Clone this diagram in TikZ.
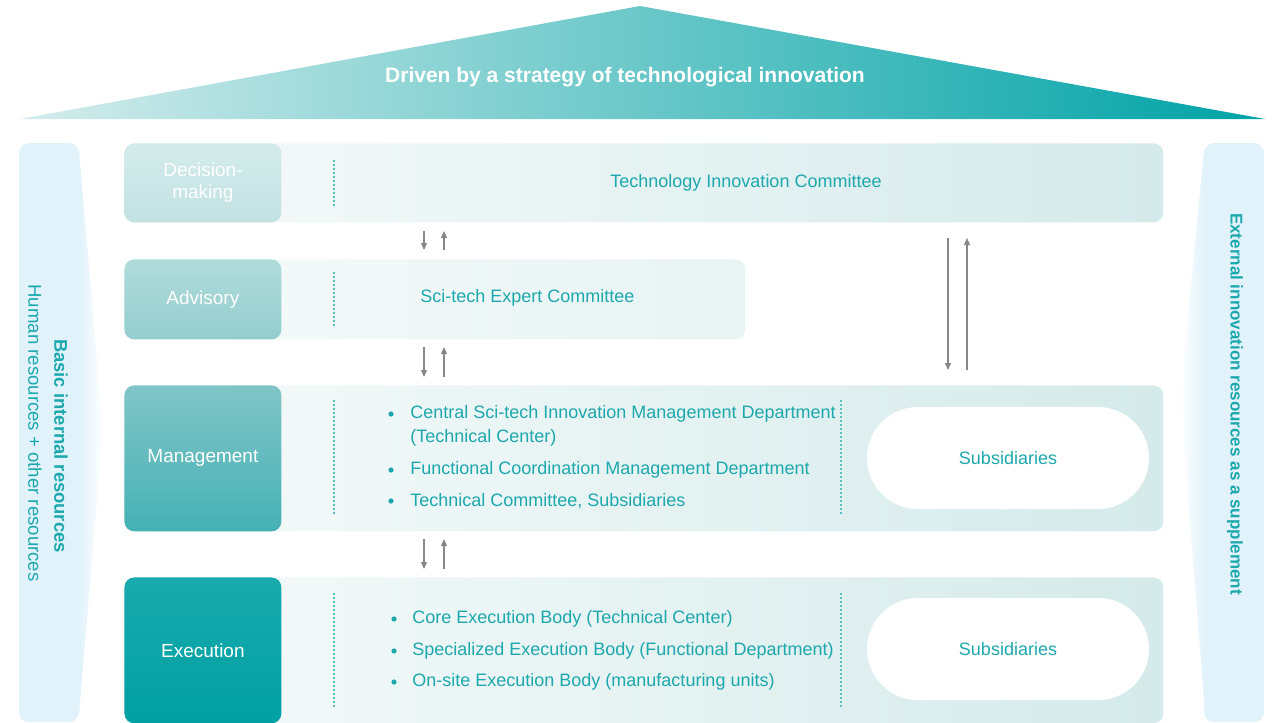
\documentclass[tikz,border=0pt]{standalone}
\usepackage{fontspec}
\setmainfont{Liberation Sans}
\usetikzlibrary{positioning,arrows.meta,calc}

\definecolor{tealtxt}{RGB}{28,168,172}
\definecolor{roofL}{RGB}{212,236,236}
\definecolor{roofR}{RGB}{0,163,166}
\definecolor{sidebg}{RGB}{225,242,251}
\definecolor{rowL}{RGB}{247,251,251}
\definecolor{rowR}{RGB}{213,234,234}
\definecolor{arrowgray}{RGB}{135,135,135}
\definecolor{dotteal}{RGB}{90,190,193}

\newcommand{\bodyfont}{\fontsize{9}{10.8}\selectfont}
\newcommand{\lvlfont}{\fontsize{9.5}{11}\selectfont}

\tikzset{
  rowbar/.style={rounded corners=5pt, left color=rowL, right color=rowR,
    anchor=north west, inner sep=0pt},
  lvl/.style={rounded corners=5pt, anchor=north west, text=white, align=center,
    minimum width=78.5pt, inner sep=0pt, font=\lvlfont},
  rowtxt/.style={text=tealtxt, font=\bodyfont, inner sep=0pt},
  item/.style={rowtxt, anchor=west},
  pill/.style={fill=white, rounded corners=25.5pt, minimum width=141pt,
    minimum height=51pt, text=tealtxt, font=\bodyfont, inner sep=0pt},
  sep/.style={dotteal, line width=0.6pt, dash pattern=on 0.9pt off 1.1pt},
  updown/.style={arrowgray, line width=0.6pt, -{Triangle[length=3.5pt,width=3pt]}},
  sidetxt/.style={text=tealtxt, rotate=-90, inner sep=0pt}
}

\begin{document}
\begin{tikzpicture}[x=0.5pt,y=-0.5pt]
  \useasboundingbox (0,0) rectangle (1280,723);

  % roof
  \shade[left color=roofL, right color=roofR] (20,119) -- (640,6) -- (1265,119) -- cycle;
  \node[text=white, font=\fontsize{10.5}{12}\selectfont\bfseries] (title) at (625,77)
    {Driven by a strategy of technological innovation};

  % side columns
  \fill[sidebg, rounded corners=5pt] (19,143) rectangle (79,722);
  \fill[sidebg, rounded corners=5pt] (1204,143) rectangle (1264,722);
  \shade[left color=sidebg, right color=white] (79,150) -- (103,430) -- (79,715) -- cycle;
  \shade[left color=white, right color=sidebg] (1204,150) -- (1180,397) -- (1204,700) -- cycle;
  \node[sidetxt, font=\fontsize{9.2}{10}\selectfont\bfseries] (basic) at (61,446)
    {Basic internal resources};
  \node[sidetxt, font=\fontsize{9.3}{10}\selectfont] (human) at (35,433)
    {Human resources + other resources};
  \node[sidetxt, font=\fontsize{8.5}{10}\selectfont\bfseries] (external) at (1235,404)
    {External innovation resources as a supplement};

  % rows
  \node[rowbar, minimum width=519.5pt, minimum height=39.5pt] (decrow) at (124,143) {};
  \node[rowbar, minimum width=310.5pt, minimum height=40pt, right color=rowR!45!rowL] (advrow) at (124,259) {};
  \node[rowbar, minimum width=519.5pt, minimum height=73pt] (mgtrow) at (124,385) {};
  \node[rowbar, minimum width=519.5pt, minimum height=73pt] (exerow) at (124,577) {};

  \node[lvl, minimum height=39.5pt, top color={rgb,255:red,212;green,235;blue,235},
    bottom color={rgb,255:red,194;green,226;blue,226}] (dec) at (124,143) {Decision-\\making};
  \node[lvl, minimum height=40pt, top color={rgb,255:red,176;green,219;blue,219},
    bottom color={rgb,255:red,148;green,205;blue,205}] (adv) at (124,259) {Advisory};
  \node[lvl, minimum height=73pt, top color={rgb,255:red,128;green,197;blue,199},
    bottom color={rgb,255:red,69;green,177;blue,180}] (mgt) at (124,385) {Management};
  \node[lvl, minimum height=73pt, top color={rgb,255:red,25;green,170;blue,173},
    bottom color={rgb,255:red,0;green,160;blue,163}] (exe) at (124,577) {Execution};

  % dotted separators
  \draw[sep] (334,160) -- (334,206);
  \draw[sep] (334,272) -- (334,326);
  \draw[sep] (334,400) -- (334,515);
  \draw[sep] (841,400) -- (841,515);
  \draw[sep] (334,593) -- (334,707);
  \draw[sep] (841,593) -- (841,707);

  % row contents
  \node[rowtxt] (tic) at (746,183) {Technology Innovation Committee};
  \node[item] (sec) at (420,298) {Sci-tech Expert Committee};

  \foreach \y in {414,470,501} \fill[tealtxt] (391,\y) circle (1.3pt);
  \node[item] (m1) at (410,414) {Central Sci-tech Innovation Management Department};
  \node[item] (m1b) at (410,438) {(Technical Center)};
  \node[item] (m2) at (410,470) {Functional Coordination Management Department};
  \node[item] (m3) at (410,501) {Technical Committee, Subsidiaries};
  \node[pill] (msub) at (1008,458) {Subsidiaries};

  \foreach \y in {619,651,682} \fill[tealtxt] (394,\y) circle (1.3pt);
  \node[item] (e1) at (412,619) {Core Execution Body (Technical Center)};
  \node[item] (e2) at (412,651) {Specialized Execution Body (Functional Department)};
  \node[item] (e3) at (412,682) {On-site Execution Body (manufacturing units)};
  \node[pill] (esub) at (1008,649) {Subsidiaries};

  % arrows between levels
  \foreach \i/\ya/\yb in {1/231/250, 2/347/377, 3/539/569}{
    \coordinate (up\i) at (444,\ya);
    \coordinate (dn\i) at (424,\yb);
    \draw[updown] (up\i -| dn\i) -- (dn\i);
    \draw[updown] (dn\i -| up\i) -- (up\i);
  }
  \coordinate (longtop) at (948,238);
  \coordinate (longbot) at (967,370);
  \draw[updown] (longtop) -- (longtop |- longbot);
  \draw[updown] (longbot) -- (longbot |- longtop);
\end{tikzpicture}
\end{document}
